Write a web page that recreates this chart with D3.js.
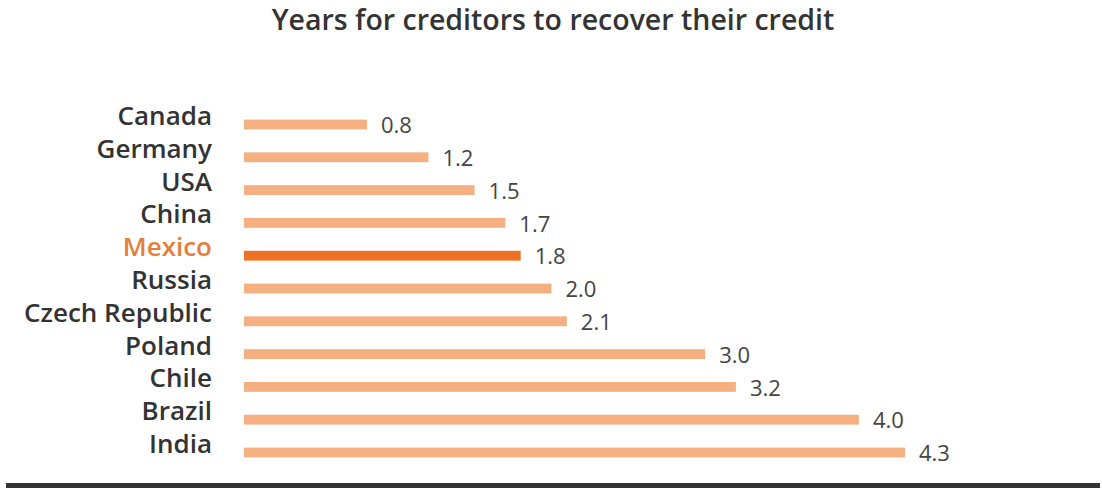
<!DOCTYPE html>
<html>
<head>
<meta charset="utf-8">
<script src="https://cdn.jsdelivr.net/npm/d3@7"></script>
<style>
  body { margin: 0; background: #fff; }
  text { font-family: "Open Sans", sans-serif; }
</style>
</head>
<body>
<svg id="chart" width="1102" height="489"></svg>
<script>
var countries = ["Canada", "Germany", "USA", "China", "Mexico", "Russia", "Czech Republic", "Poland", "Chile", "Brazil", "India"];
var years = [0.8, 1.2, 1.5, 1.7, 1.8, 2.0, 2.1, 3.0, 3.2, 4.0, 4.3];
var highlight = "Mexico";

var svg = d3.select("#chart"),
    width = +svg.attr("width"),
    height = +svg.attr("height");

var data = countries.map(function(c, i) { return { country: c, value: years[i] }; });

var x = d3.scaleLinear()
    .domain([0, 4.3])
    .range([244, 905]);

var y = d3.scaleBand()
    .domain(countries)
    .range([96.6, 480.4])
    .padding(0.7);

svg.append("text")
    .attr("x", width / 2 + 2)
    .attr("y", 30)
    .attr("text-anchor", "middle")
    .attr("font-size", 28.5)
    .attr("font-weight", 600)
    .attr("fill", "#333")
    .text("Years for creditors to recover their credit");

var row = svg.selectAll(".row")
    .data(data)
    .enter().append("g")
    .attr("class", "row");

row.append("rect")
    .attr("x", x(0))
    .attr("y", function(d) { return y(d.country); })
    .attr("width", function(d) { return x(d.value) - x(0); })
    .attr("height", y.bandwidth())
    .attr("fill", function(d) { return d.country === highlight ? "#ee7226" : "#f5af80"; });

row.append("text")
    .attr("x", 212)
    .attr("y", function(d) { return y(d.country) + y.bandwidth() / 2 + 0.5; })
    .attr("text-anchor", "end")
    .attr("font-size", 26)
    .attr("font-weight", 600)
    .attr("fill", function(d) { return d.country === highlight ? "#e47f3b" : "#333"; })
    .text(function(d) { return d.country; });

row.append("text")
    .attr("x", function(d) { return x(d.value) + 14; })
    .attr("y", function(d) { return y(d.country) + y.bandwidth() / 2 + 1; })
    .attr("dy", "0.35em")
    .attr("font-size", 22)
    .attr("fill", "#444")
    .text(function(d) { return d3.format(".1f")(d.value); });

svg.append("rect")
    .attr("x", 6)
    .attr("y", 483)
    .attr("width", 1094)
    .attr("height", 5)
    .attr("fill", "#333");
</script>
</body>
</html>
